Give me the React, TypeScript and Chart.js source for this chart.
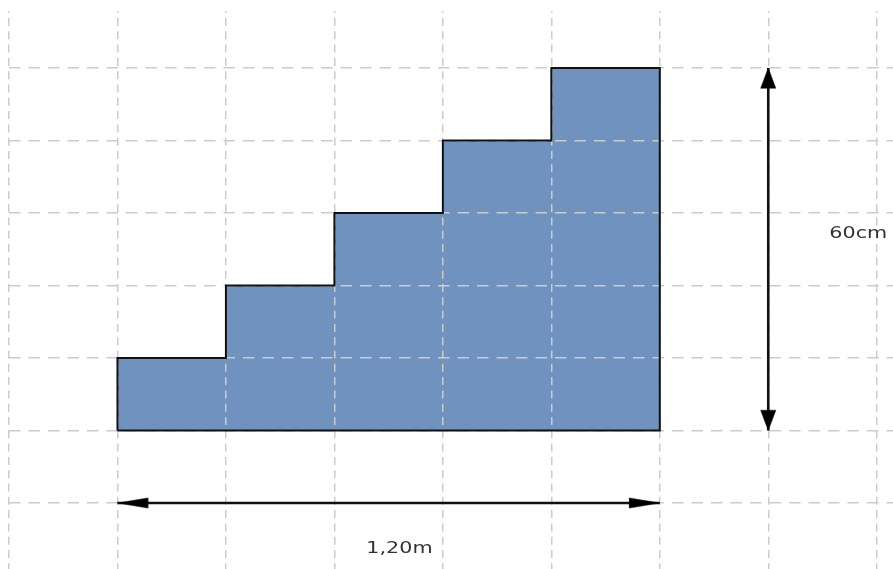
import React, { useEffect, useRef } from "react";
import { Chart, registerables } from "chart.js";

Chart.register(...registerables);

const gridX = [-1, 0, 1, 2, 3, 4, 5, 6, 7];
const gridY = [-1, 0, 1, 2, 3, 4, 5];
const stairX = [0, 0, 1, 1, 2, 2, 3, 3, 4, 4, 5, 5, 0];
const stairY = [0, 1, 1, 2, 2, 3, 3, 4, 4, 5, 5, 0, 0];
const widthArrowX = [0, 5];
const widthArrowY = [-1, -1];
const heightArrowX = [6, 6];
const heightArrowY = [0, 5];
const headLeftX = [0, 0.28, 0.28, 0];
const headLeftY = [-1, -0.93, -1.07, -1];
const headRightX = [5, 4.72, 4.72, 5];
const headRightY = [-1, -0.93, -1.07, -1];
const headTopX = [6, 5.93, 6.07, 6];
const headTopY = [5, 4.72, 4.72, 5];
const headBottomX = [6, 5.93, 6.07, 6];
const headBottomY = [0, 0.28, 0.28, 0];
const labelWidth = "1,20m";
const labelHeight = "60cm";

const zip = (xs: number[], ys: number[]) => xs.map((x, i) => ({ x, y: ys[i] }));

const line = (xs: number[], ys: number[], width: number, filled = false) => ({
  type: "line" as const,
  data: zip(xs, ys),
  borderColor: "#111111",
  borderWidth: width,
  fill: false,
  pointRadius: 0,
  tension: 0,
  borderJoinStyle: "miter",
  overlayFill: filled,
});

const overlayPlugin = {
  id: "overlay",
  // Every dataset but the blue fill is drawn after the grid, which sits over the fill.
  beforeDatasetDraw(_chart: any, args: any) {
    if (args.index > 0) return false;
    return true;
  },
  afterDraw(chart: any) {
    const { ctx, scales } = chart;
    chart.data.datasets.forEach((ds: any, i: number) => {
      if (i === 0) return;
      const meta = chart.getDatasetMeta(i);
      if (ds.overlayFill) {
        ctx.save();
        ctx.fillStyle = "#000000";
        ctx.beginPath();
        meta.dataset.path(ctx);
        ctx.closePath();
        ctx.fill();
        ctx.restore();
      }
      meta.controller.draw();
    });
    const put = (text: string, x: number, y: number) => {
      ctx.save();
      ctx.translate(scales.x.getPixelForValue(x), scales.y.getPixelForValue(y));
      ctx.scale(1.38, 1);
      ctx.font = '15px "DejaVu Sans"';
      ctx.fillStyle = "#333333";
      ctx.textAlign = "center";
      ctx.textBaseline = "middle";
      ctx.fillText(text, 0, 0);
      ctx.restore();
    };
    put(labelHeight, 6.83, 2.71);
    put(labelWidth, 2.6, -1.64);
  },
};

export default function App() {
  const ref = useRef<HTMLCanvasElement>(null);
  useEffect(() => {
    document.body.style.margin = "0";
    const chart = new Chart(ref.current!, {
      type: "line",
      data: {
        datasets: [
          {
            data: zip(stairX, stairY),
            borderWidth: 0,
            borderColor: "transparent",
            backgroundColor: "#7092be",
            fill: "shape",
            pointRadius: 0,
            tension: 0,
          } as any,
          line(stairX, stairY, 2),
          line(widthArrowX, widthArrowY, 2.6),
          line(heightArrowX, heightArrowY, 2.6),
          line(headLeftX, headLeftY, 0.5, true),
          line(headRightX, headRightY, 0.5, true),
          line(headTopX, headTopY, 0.5, true),
          line(headBottomX, headBottomY, 0.5, true),
        ] as any,
      },
      options: {
        responsive: false,
        animation: false,
        devicePixelRatio: 1,
        layout: { padding: { left: 9, top: 11, right: 0, bottom: 0 } },
        plugins: { legend: { display: false }, tooltip: { enabled: false } },
        scales: {
          x: {
            type: "linear",
            min: -1,
            max: 7.15,
            afterBuildTicks: (s: any) => {
              s.ticks = gridX.map((value) => ({ value }));
            },
            ticks: { display: false },
            border: { display: false, dash: [8, 5.3], dashOffset: 6.3 },
            grid: { color: "#cccccc", lineWidth: 1.5, drawTicks: false, z: 1 },
          },
          y: {
            type: "linear",
            min: -1.91,
            max: 5.786,
            afterBuildTicks: (s: any) => {
              s.ticks = gridY.map((value) => ({ value }));
            },
            ticks: { display: false },
            border: { display: false, dash: [11.5, 8] },
            grid: { color: "#cccccc", lineWidth: 1.5, drawTicks: false, z: 1 },
          },
        },
      },
      plugins: [overlayPlugin],
    } as any);
    return () => chart.destroy();
  }, []);
  return (
    <canvas
      ref={ref}
      width={893}
      height={569}
      style={{ display: "block", position: "absolute", left: 0, top: 0, background: "#ffffff" }}
    />
  );
}
